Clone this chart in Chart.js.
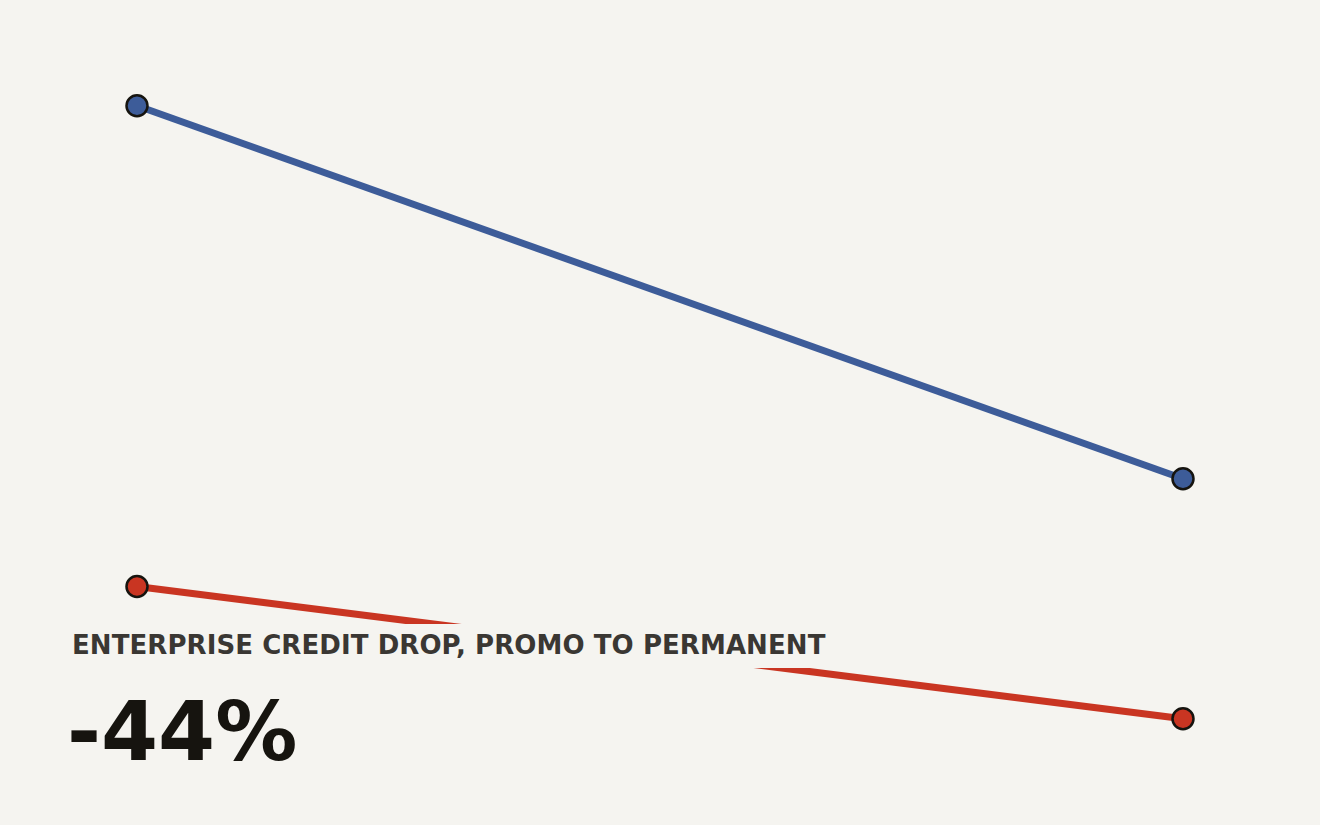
<!DOCTYPE html>
<html>
<head>
<meta charset="utf-8">
<script src="https://cdn.jsdelivr.net/npm/chart.js@4/dist/chart.umd.min.js"></script>
<style>
    html, body {
        margin: 0;
        padding: 0;
        background: #f5f4f0;
    }
    #wrap {
        position: relative;
        width: 1320px;
        height: 825px;
    }
    #title {
        position: absolute;
        left: 60px;
        top: 624px;
        padding: 8px 10px 10px 12px;
        font: bold 26px "DejaVu Sans";
        line-height: 26px;
        letter-spacing: 0.08px;
        color: #3a3733;
        background: #f5f4f0;
        white-space: nowrap;
    }
    #big {
        position: absolute;
        left: 67px;
        top: 691px;
        font: bold 82px "DejaVu Sans";
        line-height: 1;
        color: #16140f;
        white-space: nowrap;
    }
</style>
</head>
<body>
<div id="wrap">
    <canvas id="chartSlope" width="1320" height="825"></canvas>
    <div id="title">ENTERPRISE CREDIT DROP, PROMO TO PERMANENT</div>
    <div id="big">-44%</div>
</div>
<script>
const periods = ["Promo", "Permanent"];
const enterpriseCredits = [100, 56];
const otherCredits = [43.3, 27.7];

const blue = "#3d5c99";
const red = "#c93522";

new Chart(document.getElementById("chartSlope"), {

    type: "line",

    data: {
        labels: periods,
        datasets: [
            {
                data: enterpriseCredits,
                borderColor: blue,
                backgroundColor: blue,
                borderWidth: 7,
                pointRadius: 10.5,
                pointBorderWidth: 2.5,
                pointBorderColor: "#16140f",
                pointBackgroundColor: blue
            },
            {
                data: otherCredits,
                borderColor: red,
                backgroundColor: red,
                borderWidth: 7,
                pointRadius: 10.5,
                pointBorderWidth: 2.5,
                pointBorderColor: "#16140f",
                pointBackgroundColor: red
            }
        ]
    },

    options: {
        responsive: false,
        animation: false,
        layout: {
            padding: { left: 137, right: 137, top: 21, bottom: 41 }
        },
        plugins: {
            legend: { display: false },
            tooltip: { enabled: false }
        },
        scales: {
            x: {
                display: false,
                offset: false
            },
            y: {
                display: false,
                min: 20,
                max: 110
            }
        }
    }
});
</script>
</body>
</html>
